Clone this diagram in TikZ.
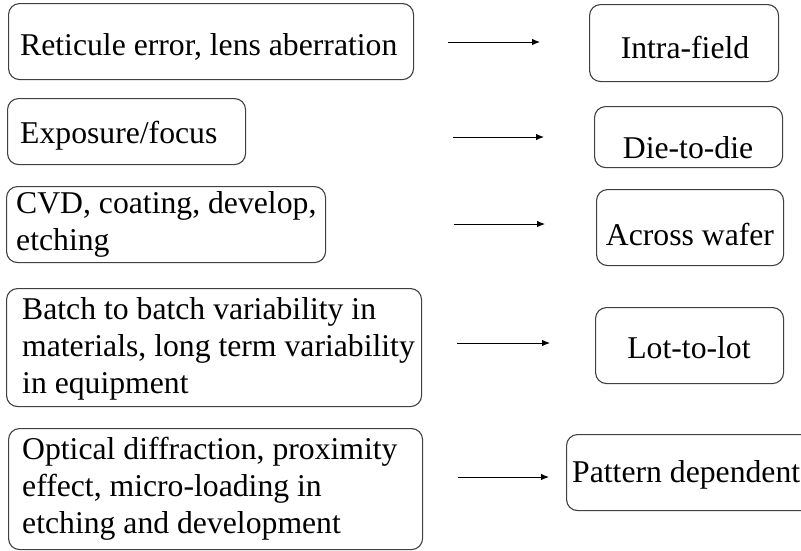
\documentclass[tikz,border=0pt]{standalone}
\usepackage{fontspec}
\setmainfont{Liberation Serif}
\usetikzlibrary{arrows.meta}
\begin{document}
\begin{tikzpicture}[x=1pt,y=-1pt,
  box/.style={draw=black!75, line width=1.1pt, rounded corners=11pt,
    inner sep=0pt, anchor=north west},
  txt/.style={inner sep=0pt, anchor=base west,
    font=\fontsize{31.7}{37}\selectfont},
  ctxt/.style={inner sep=0pt, anchor=base,
    font=\fontsize{31.7}{37}\selectfont},
  arr/.style={line width=0.9pt, -{Latex[length=8pt,width=6.5pt]}}]
\useasboundingbox (0,0) rectangle (801,550);
\clip (0,0) rectangle (801,550);

% causes (left column)
\node[box, minimum width=405pt, minimum height=76pt] (b1) at (8,3) {};
\node[box, minimum width=238pt, minimum height=66pt] (b2) at (7,98) {};
\node[box, minimum width=319pt, minimum height=76pt] (b3) at (6,186) {};
\node[box, minimum width=415pt, minimum height=118pt] (b4) at (6,288) {};
\node[box, minimum width=414pt, minimum height=121pt] (b5) at (8,428) {};

\node[txt] (t1) at (20,55) {Reticule error, lens aberration};
\node[txt] (t2) at (20,143) {Exposure/focus};
\node[txt] (t3) at (16,213) {\vtop{\hbox{CVD, coating, develop,}\hbox{etching}}};
\node[txt] (t4) at (22,319) {\vtop{\hbox{Batch to batch variability in}%
  \hbox{materials, long term variability}\hbox{in equipment}}};
\node[txt] (t5) at (22,459) {\vtop{\hbox{Optical diffraction, proximity}%
  \hbox{effect, micro-loading in}\hbox{etching and development}}};

% variation types (right column)
\node[box, minimum width=189pt, minimum height=77pt] (r1) at (589,4) {};
\node[box, minimum width=188pt, minimum height=61pt] (r2) at (594,106) {};
\node[box, minimum width=187pt, minimum height=76pt] (r3) at (596,189) {};
\node[box, minimum width=188pt, minimum height=76pt] (r4) at (595,307) {};
\node[box, minimum width=250pt, minimum height=76pt] (r5) at (566,434) {};

\node[ctxt] (s1) at (685,58) {Intra-field};
\node[ctxt] (s2) at (688,158) {Die-to-die};
\node[ctxt] (s3) at (690,245) {Across wafer};
\node[ctxt] (s4) at (689,358) {Lot-to-lot};
\node[txt] (s5) at (572,482) {Pattern dependent};

% arrows between the columns
\coordinate (a1s) at (448,42);  \coordinate (a1e) at (540,42);
\coordinate (a2s) at (453,137); \coordinate (a2e) at (544,137);
\coordinate (a3s) at (454,224); \coordinate (a3e) at (545,224);
\coordinate (a4s) at (457,343); \coordinate (a4e) at (550,343);
\coordinate (a5s) at (458,477); \coordinate (a5e) at (549,477);
\draw[arr] (a1s) -- (a1e);
\draw[arr] (a2s) -- (a2e);
\draw[arr] (a3s) -- (a3e);
\draw[arr] (a4s) -- (a4e);
\draw[arr] (a5s) -- (a5e);
\end{tikzpicture}
\end{document}
